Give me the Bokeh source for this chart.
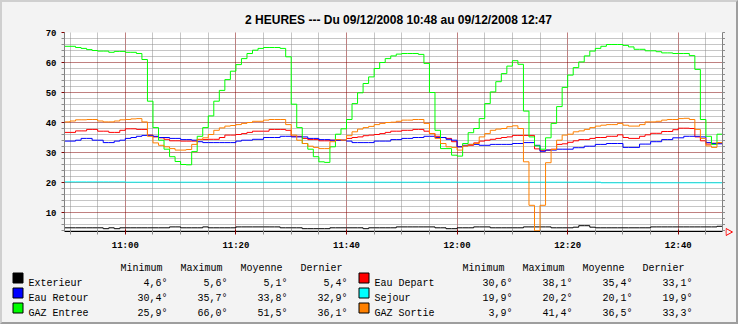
from bokeh.plotting import figure
from bokeh.layouts import column, row
from bokeh.models import Range1d, FixedTicker, LinearAxis
from bokeh.core.properties import value
from bokeh.embed import file_html
from bokeh.resources import INLINE

# ---------------- data ----------------
TITLE = "2 HEURES --- Du 09/12/2008 10:48 au 09/12/2008 12:47"
START_MIN = 649          # 10:49, one value per minute
END_MIN = 768            # 12:48

x_ticks = [660, 680, 700, 720, 740, 760]
x_tick_labels = ["11:00", "11:20", "11:40", "12:00", "12:20", "12:40"]
y_ticks = [10, 20, 30, 40, 50, 60, 70]

exterieur = [4.9, 4.9, 4.9, 4.9, 4.9, 4.9, 4.9, 4.6, 4.9, 4.6, 4.9,
             4.9, 4.9, 4.9, 4.9, 4.9, 4.9, 4.9, 4.9, 5.2, 5.2,
             4.9, 4.9, 4.9, 4.9, 5.2, 4.9, 4.9, 4.9, 4.9, 4.9,
             5.2, 5.2, 5.2, 5.2, 5.2, 5.2, 5.2, 5.2, 4.9, 4.9,
             4.9, 4.9, 4.6, 4.6, 4.6, 4.6, 4.6, 4.9, 4.9, 4.9,
             4.9, 4.9, 4.9, 4.6, 4.9, 4.9, 4.9, 4.9, 4.9, 5.2,
             5.2, 5.2, 5.2, 5.2, 5.2, 5.2, 4.9, 4.9, 4.6, 4.6,
             4.9, 4.9, 4.9, 5.2, 5.2, 5.2, 4.9, 4.9, 4.9, 4.9,
             4.9, 4.9, 5.2, 5.2, 5.2, 5.2, 5.2, 4.9, 4.9, 4.9,
             4.9, 5.1, 5.6, 5.6, 5.1, 4.9, 4.9, 4.9, 4.9, 4.9,
             4.9, 4.9, 4.9, 4.9, 4.9, 5.2, 5.2, 5.2, 5.2, 5.2,
             5.2, 5.2, 5.2, 5.2, 5.2, 5.2, 5.2, 5.4]

eau_depart = [36.7, 36.7, 37.2, 37.2, 37.7, 37.7, 37.1, 37.1, 36.7, 36.7, 37.4,
              37.9, 37.9, 37.7, 37.7, 35.8, 35.2, 34.9, 34.4, 33.9, 33.9,
              33.8, 33.8, 33.8, 34.3, 34.3, 34.4, 34.4, 35.0, 35.8, 35.8,
              36.0, 36.3, 36.7, 37.1, 37.1, 37.1, 37.7, 37.7, 37.7, 37.4,
              35.4, 35.4, 34.7, 34.3, 34.3, 33.9, 33.9, 34.1, 34.1, 34.1,
              34.7, 35.0, 35.2, 35.6, 35.8, 36.0, 36.3, 36.7, 37.1, 37.1,
              37.4, 37.4, 37.7, 37.7, 37.1, 36.3, 35.4, 35.0, 34.7, 33.6,
              31.9, 32.2, 32.4, 33.2, 33.8, 34.1, 34.4, 34.7, 35.0, 35.2,
              35.7, 35.7, 35.7, 35.7, 31.2, 30.6, 30.8, 31.1, 32.7, 32.9,
              33.4, 33.9, 34.3, 34.3, 34.7, 35.0, 35.0, 35.4, 35.4, 35.9,
              35.0, 34.7, 34.7, 35.4, 35.9, 36.4, 36.4, 37.0, 37.0, 37.6,
              38.1, 38.1, 38.0, 35.2, 33.9, 32.8, 33.1, 33.1]

eau_retour = [33.8, 33.8, 34.1, 34.7, 34.7, 34.1, 34.1, 33.3, 33.3, 33.8, 34.1,
              34.7, 35.0, 35.4, 35.7, 35.7, 35.4, 35.0, 35.0, 34.7, 34.7,
              34.3, 34.3, 34.1, 33.6, 33.3, 33.3, 33.3, 33.3, 33.3, 33.3,
              33.8, 34.1, 34.1, 34.4, 34.4, 35.0, 35.0, 35.0, 35.4, 35.4,
              35.2, 35.2, 35.2, 34.7, 34.7, 34.3, 34.3, 34.1, 34.1, 34.1,
              33.8, 33.3, 33.3, 33.3, 33.3, 33.8, 33.8, 33.8, 34.3, 34.3,
              34.7, 34.7, 35.0, 35.0, 35.4, 35.4, 35.0, 35.0, 34.4, 34.1,
              31.9, 32.4, 32.7, 32.7, 32.4, 32.4, 32.7, 32.7, 32.7, 32.7,
              33.0, 33.0, 33.3, 33.3, 32.4, 30.4, 30.8, 30.8, 31.1, 31.1,
              31.1, 31.6, 31.6, 32.1, 32.1, 32.7, 32.7, 33.0, 33.0, 33.0,
              31.7, 31.7, 31.7, 32.8, 32.8, 33.6, 33.6, 34.3, 34.3, 34.9,
              34.9, 35.4, 35.4, 35.4, 35.2, 33.3, 33.0, 32.9]

sejour = [20.2, 20.2, 20.2, 20.2, 20.2, 20.2, 20.2, 20.2, 20.2, 20.2, 20.2,
          20.1, 20.1, 20.1, 20.1, 20.1, 20.1, 20.1, 20.1, 20.1, 20.1,
          20.1, 20.1, 20.1, 20.1, 20.1, 20.1, 20.1, 20.1, 20.1, 20.1,
          20.1, 20.1, 20.1, 20.1, 20.1, 20.1, 20.1, 20.1, 20.1, 20.1,
          20.1, 20.1, 20.1, 20.1, 20.1, 20.1, 20.1, 20.1, 20.1, 20.1,
          20.1, 20.1, 20.1, 20.1, 20.1, 20.1, 20.1, 20.1, 20.1, 20.1,
          20.1, 20.1, 20.1, 20.1, 20.1, 20.1, 20.1, 20.1, 20.1, 20.1,
          20.1, 20.1, 20.1, 20.1, 20.1, 20.1, 20.1, 20.1, 20.1, 20.1,
          20.1, 20.1, 20.1, 20.1, 20.1, 20.1, 20.1, 20.1, 20.1, 20.1,
          20.1, 20.1, 20.1, 20.1, 20.1, 20.1, 19.9, 19.9, 19.9, 19.9,
          19.9, 19.9, 19.9, 19.9, 19.9, 19.9, 19.9, 19.9, 19.9, 19.9,
          19.9, 19.9, 19.9, 19.9, 19.9, 19.9, 19.9, 19.9]

gaz_entree = [65.4, 65.4, 65.0, 64.7, 64.3, 64.0, 63.8, 63.8, 63.4, 63.7, 63.7,
              63.4, 63.4, 63.0, 61.0, 47.1, 38.3, 34.1, 31.1, 28.6, 27.0,
              26.0, 25.9, 30.3, 35.4, 38.3, 42.2, 47.1, 50.7, 54.3, 57.1,
              59.3, 61.3, 63.0, 64.1, 64.7, 65.0, 65.0, 65.0, 64.7, 61.9,
              46.1, 38.3, 33.0, 31.1, 28.6, 26.9, 26.7, 31.9, 36.1, 37.9,
              41.0, 46.3, 49.9, 53.0, 55.2, 58.0, 60.0, 61.3, 62.2, 62.8,
              63.0, 63.0, 63.0, 62.7, 59.7, 50.0, 37.4, 31.3, 31.3, 29.1,
              28.8, 33.0, 36.6, 38.0, 41.3, 46.3, 50.2, 53.6, 56.3, 58.8,
              60.6, 59.4, 43.8, 35.2, 32.2, 31.1, 34.9, 39.7, 45.3, 51.7,
              55.8, 58.3, 60.2, 62.2, 63.8, 64.7, 65.4, 66.0, 66.0, 66.0,
              65.7, 65.2, 64.4, 64.4, 63.9, 63.9, 63.6, 63.2, 63.2, 63.0,
              63.0, 63.0, 62.3, 57.7, 41.0, 35.4, 32.7, 36.1]

gaz_sortie = [40.2, 40.5, 40.9, 40.9, 41.0, 41.0, 40.5, 40.2, 40.2, 40.5, 40.9,
              41.0, 41.2, 41.3, 40.2, 35.4, 33.2, 32.4, 31.9, 31.3, 30.8,
              30.8, 31.0, 32.7, 34.4, 34.9, 36.0, 37.4, 38.2, 38.8, 39.0,
              39.3, 39.7, 40.0, 40.4, 40.4, 40.8, 41.0, 41.0, 41.0, 39.3,
              35.8, 34.1, 33.0, 32.1, 31.7, 31.3, 31.3, 33.6, 34.3, 34.1,
              35.6, 36.9, 37.8, 38.3, 38.7, 39.3, 39.7, 40.0, 40.1, 40.4,
              40.8, 40.8, 41.0, 41.0, 39.7, 36.3, 34.7, 33.0, 31.9, 31.7,
              30.8, 32.2, 32.7, 33.0, 35.2, 36.3, 37.4, 37.8, 38.0, 38.6,
              38.9, 38.0, 26.9, 12.4, 3.9, 12.4, 26.6, 31.0, 34.1, 35.8,
              36.1, 36.9, 37.2, 37.7, 38.3, 38.8, 39.1, 39.3, 39.3, 39.7,
              39.1, 38.8, 38.8, 39.3, 40.2, 40.2, 40.4, 40.8, 41.0, 41.0,
              41.3, 41.4, 41.0, 37.7, 34.7, 32.2, 31.7, 33.3]

series_names = ["Exterieur", "Eau Depart", "Eau Retour", "Sejour", "GAZ Entree", "GAZ Sortie"]
series_colors = ["#000000", "#FF0000", "#0000FF", "#00FFFF", "#00FF00", "#FF8000"]
series_values = [exterieur, eau_depart, eau_retour, sejour, gaz_entree, gaz_sortie]

stat_headers = ["Minimum", "Maximum", "Moyenne", "Dernier"]
stat_minimum = ["4,6°", "30,6°", "30,4°", "19,9°", "25,9°", "3,9°"]
stat_maximum = ["5,6°", "38,1°", "35,7°", "20,2°", "66,0°", "41,4°"]
stat_moyenne = ["5,1°", "35,4°", "33,8°", "20,1°", "51,5°", "36,5°"]
stat_dernier = ["5,4°", "33,1°", "32,9°", "19,9°", "36,1°", "33,3°"]

# ---------------- layout constants (page pixels) ----------------
BACK = "#F3F3F3"
MGRID = "#800000"
GRID = "#8C8C8C"
BORDER = 2
PAGE_W, PAGE_H = 738, 324
IN_L, IN_R, IN_T, IN_B = BORDER, PAGE_W - BORDER, BORDER, PAGE_H - BORDER
FRAME_L, FRAME_T, FRAME_W, FRAME_H = 64, 32, 658, 199
FRAME_R, FRAME_B = FRAME_L + FRAME_W, FRAME_T + FRAME_H
CHART_T, CHART_B = 26, 257
ARROW_L = 725


def pixel_fig(x0, x1, y0, y1):
    f = figure(width=x1 - x0, height=y1 - y0, output_backend="svg", toolbar_location=None,
               x_range=Range1d(x0, x1), y_range=Range1d(y1, y0),
               x_axis_type=None, y_axis_type=None, min_border=0,
               background_fill_color=BACK, border_fill_color=BACK, outline_line_color=None)
    f.grid.visible = False
    return f


# ---------------- title strip ----------------
title_fig = pixel_fig(IN_L, ARROW_L, IN_T, CHART_T)
title_fig.text(x=[369], y=[19], text=[TITLE], text_align="center", text_baseline="middle",
               text_font=value("Liberation Sans"), text_font_size="12px",
               text_font_style="bold", text_color="black")

# ---------------- chart ----------------
p = figure(width=ARROW_L - IN_L, height=CHART_B - CHART_T, output_backend="svg",
           toolbar_location=None,
           x_range=Range1d(START_MIN, END_MIN), y_range=Range1d(70 - FRAME_H / 3.0, 70),
           min_border_left=FRAME_L - IN_L, min_border_right=ARROW_L - FRAME_R,
           min_border_top=FRAME_T - CHART_T, min_border_bottom=CHART_B - FRAME_B,
           background_fill_color="white", border_fill_color=BACK,
           outline_line_color=None)

minor_x = [m for m in range(650, END_MIN, 5) if m not in x_ticks]
minor_y = [v for v in range(4, 71, 2) if v not in y_ticks]

for ax in p.xaxis:
    ax.ticker = FixedTicker(ticks=x_ticks, minor_ticks=minor_x)
    ax.major_label_overrides = {t: l for t, l in zip(x_ticks, x_tick_labels)}
    ax.axis_line_color = "black"
    ax.major_tick_line_color = MGRID
    ax.minor_tick_line_color = GRID
    ax.major_tick_in = 2
    ax.major_tick_out = 3
    ax.minor_tick_in = 2
    ax.minor_tick_out = 3
    ax.major_label_standoff = 6
    ax.major_label_text_font = "Liberation Mono"
    ax.major_label_text_font_style = "bold"
    ax.major_label_text_font_size = "9px"
    ax.major_label_text_color = "black"

for ax in p.yaxis:
    ax.ticker = FixedTicker(ticks=y_ticks, minor_ticks=minor_y)
    ax.axis_line_color = "#808080"
    ax.major_tick_line_color = MGRID
    ax.minor_tick_line_color = GRID
    ax.major_tick_in = 0
    ax.major_tick_out = 3
    ax.minor_tick_in = 0
    ax.minor_tick_out = 3
    ax.major_label_standoff = 5
    ax.major_label_text_font = "Liberation Mono"
    ax.major_label_text_font_style = "bold"
    ax.major_label_text_font_size = "9px"
    ax.major_label_text_color = "black"

# right frame edge: an axis with tick marks only (no labels)
right_ax = LinearAxis(ticker=FixedTicker(ticks=[], minor_ticks=list(range(4, 71, 2))),
                      axis_line_color="#808080", minor_tick_line_color=GRID,
                      minor_tick_in=0, minor_tick_out=3)
p.add_layout(right_ax, "right")

p.xgrid.ticker = FixedTicker(ticks=x_ticks, minor_ticks=minor_x)
p.ygrid.ticker = FixedTicker(ticks=y_ticks, minor_ticks=minor_y)
for g in (p.xgrid, p.ygrid):
    g.grid_line_color = MGRID
    g.grid_line_dash = "1 1"
    g.grid_line_width = 1
    g.minor_grid_line_color = GRID
    g.minor_grid_line_dash = "1 1"
    g.minor_grid_line_width = 1

for vals, col in zip(series_values, series_colors):
    xs = [START_MIN + i for i in range(len(vals))] + [END_MIN]
    ys = list(vals) + [vals[-1]]
    p.step(xs, ys, mode="after", line_color=col, line_width=1)

# ---------------- arrow strip (end of the time axis) ----------------
arrow_fig = pixel_fig(ARROW_L, IN_R, IN_T, CHART_B)
arrow_fig.line(x=[ARROW_L, 731], y=[FRAME_B + 0.5, FRAME_B + 0.5], line_color="#FF0000", line_width=1)
arrow_fig.patch(x=[ARROW_L + 0.5, 732, ARROW_L + 0.5], y=[FRAME_B - 3, FRAME_B + 0.5, FRAME_B + 4],
                fill_color=BACK, line_color="#FF0000", line_width=1)

# ---------------- legend table ----------------
leg = pixel_fig(IN_L, IN_R, CHART_B, IN_B)
LEG_FONT = value("Liberation Mono")
header_x = [[120, 180, 240, 300], [462, 522, 582, 642]]
value_right = [[167, 227, 287, 347], [512, 572, 632, 692]]
square_x = [12, 358]
label_x = [28, 374]
row_top = [272, 287, 302]

hx, hy, ht = [], [], []
for col in range(2):
    for h, x in zip(stat_headers, header_x[col]):
        hx.append(x)
        hy.append(268)
        ht.append(h)
leg.text(x=hx, y=hy, text=ht, text_align="left", text_baseline="alphabetic",
         text_font=LEG_FONT, text_font_size="10px", text_color="black")

for i, name in enumerate(series_names):
    col = i % 2
    top = row_top[i // 2]
    leg.quad(left=[square_x[col] + 0.5], right=[square_x[col] + 10.5],
             top=[top + 0.5], bottom=[top + 10.5],
             fill_color=series_colors[i], line_color="black", line_width=1)
    base = top + 11
    leg.text(x=[label_x[col]], y=[base], text=[name], text_align="left",
             text_baseline="alphabetic", text_font=LEG_FONT, text_font_size="10px",
             text_color="black")
    vals = [stat_minimum[i], stat_maximum[i], stat_moyenne[i], stat_dernier[i]]
    leg.text(x=value_right[col], y=[base] * 4, text=vals, text_align="right",
             text_baseline="alphabetic", text_font=LEG_FONT, text_font_size="10px",
             text_color="black")

top_part = row(column(title_fig, p, spacing=0), arrow_fig, spacing=0)
layout = column(top_part, leg, spacing=0,
                styles={"border-style": "solid", "border-width": "%dpx" % BORDER,
                        "border-color": "#CFCFCF #9E9E9E #9E9E9E #CFCFCF",
                        "background-color": BACK})

open("out.html", "w").write(file_html(layout, INLINE))
